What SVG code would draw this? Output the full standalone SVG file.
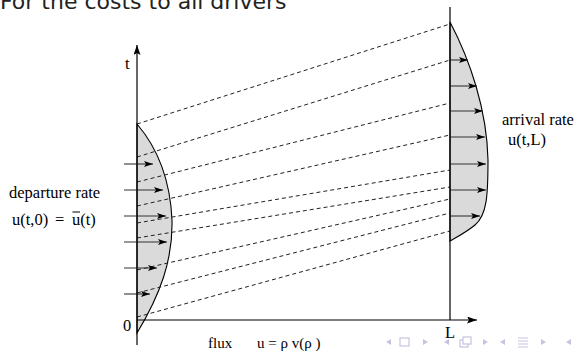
<svg xmlns="http://www.w3.org/2000/svg" width="575" height="351" viewBox="0 0 575 351">
<style>
.ax{stroke:#000;stroke-width:1.2;fill:none}
.cv{stroke:#000;stroke-width:1.1;fill:#dadada}
.ds{stroke:#222;stroke-width:1;stroke-dasharray:4,3;fill:none}
.ar{stroke:#333;stroke-width:1.1;fill:none;marker-end:url(#ah)}
.lb{font-family:"Liberation Serif","Times New Roman",serif;font-size:16.5px;fill:#000}
.sm{font-size:15px}
.nav{fill:#c4c4e0}
.navs{fill:none;stroke:#c4c4e0;stroke-width:1.2}
</style>
<defs>
<marker id="ah" markerUnits="userSpaceOnUse" markerWidth="10" markerHeight="8" refX="9" refY="3" orient="auto">
<path d="M0,0 L9,3 L0,6 L2,3 z" fill="#000"/>
</marker>
<marker id="axh" markerUnits="userSpaceOnUse" markerWidth="12" markerHeight="8" refX="10" refY="3.5" orient="auto">
<path d="M0,0 L10,3.5 L0,7 L2,3.5 z" fill="#000"/>
</marker>
</defs>
<text x="0" y="9" style="font-family:'DejaVu Sans',sans-serif;font-size:22px;fill:#222">For the costs to all drivers</text>
<g id="shading">
<path class="cv" d="M137,124 C155,145 170,175 172,220 C173,260 160,295 137,333 Z"/>
<path class="cv" d="M450,22 C470,60 487,110 488,160 C488,195 487,215 475,225 C465,233 457,237 450,241 Z"/>
</g>
<g id="connectors">
<line class="ds" x1="137" y1="124" x2="450" y2="24"/>
<line class="ds" x1="137" y1="157" x2="450" y2="60"/>
<line class="ds" x1="137" y1="182" x2="450" y2="103"/>
<line class="ds" x1="137" y1="206" x2="450" y2="135"/>
<line class="ds" x1="137" y1="223" x2="450" y2="170"/>
<line class="ds" x1="137" y1="238" x2="450" y2="187"/>
<line class="ds" x1="137" y1="270" x2="450" y2="199"/>
<line class="ds" x1="137" y1="293" x2="450" y2="213"/>
<line class="ds" x1="137" y1="317" x2="450" y2="231"/>
<line class="ar" x1="124" y1="164" x2="153" y2="164"/>
<line class="ar" x1="124" y1="190" x2="163" y2="190"/>
<line class="ar" x1="124" y1="216" x2="166" y2="216"/>
<line class="ar" x1="124" y1="242" x2="167" y2="242"/>
<line class="ar" x1="124" y1="268" x2="157" y2="268"/>
<line class="ar" x1="124" y1="294" x2="150" y2="294"/>
<line class="ar" x1="450" y1="60" x2="468" y2="60"/>
<line class="ar" x1="450" y1="86" x2="477" y2="86"/>
<line class="ar" x1="450" y1="111" x2="483" y2="111"/>
<line class="ar" x1="450" y1="137" x2="485" y2="137"/>
<line class="ar" x1="450" y1="164" x2="486" y2="164"/>
<line class="ar" x1="450" y1="190" x2="486" y2="190"/>
<line class="ar" x1="450" y1="216" x2="480" y2="216"/>
</g>
<g id="axes">
<line class="ax" x1="137" y1="345" x2="137" y2="45" marker-end="url(#axh)"/>
<line class="ax" x1="137" y1="320" x2="477" y2="320" marker-end="url(#axh)"/>
<line class="ax" x1="450" y1="7" x2="450" y2="320"/>
</g>
<g id="labels">
<text class="lb" x="125" y="69">t</text>
<text class="lb" x="123" y="331">0</text>
<text class="lb" x="445" y="338">L</text>
<text class="lb" x="9" y="198">departure rate</text>
<text class="lb" x="12" y="225">u(t,0)</text>
<text class="lb" x="55" y="225">=</text>
<text class="lb" x="72" y="225">u(t)</text>
<line x1="72.5" y1="212" x2="80" y2="212" stroke="#000" stroke-width="1"/>
<text class="lb" x="502" y="125">arrival rate</text>
<text class="lb" x="508" y="145">u(t,L)</text>
<text class="lb sm" x="208" y="348">flux</text>
<text class="lb sm" x="257" y="348">u = ρ v(ρ )</text>
</g>
<g id="nav">
<path class="nav" d="M386,342 L391,339 L391,345 Z"/>
<rect class="navs" x="400" y="338" width="9" height="8"/>
<path class="nav" d="M423,339 L428,342 L423,345 Z"/>
<path class="nav" d="M444,342 L449,339 L449,345 Z"/>
<rect class="navs" x="460" y="340" width="8" height="7"/>
<rect x="463" y="337" width="8" height="7" fill="#fff" stroke="#c4c4e0" stroke-width="1.2"/>
<path class="nav" d="M483,339 L488,342 L483,345 Z"/>
<path class="nav" d="M500,342 L505,339 L505,345 Z"/>
<path d="M518,338 H528 M518,341 H528 M518,344 H528 M518,347 H528" stroke="#c4c4e0" stroke-width="1.2"/>
<path class="nav" d="M541,339 L546,342 L541,345 Z"/>
<path class="nav" d="M566,342 L571,339 L571,345 Z"/>
</g>
</svg>
